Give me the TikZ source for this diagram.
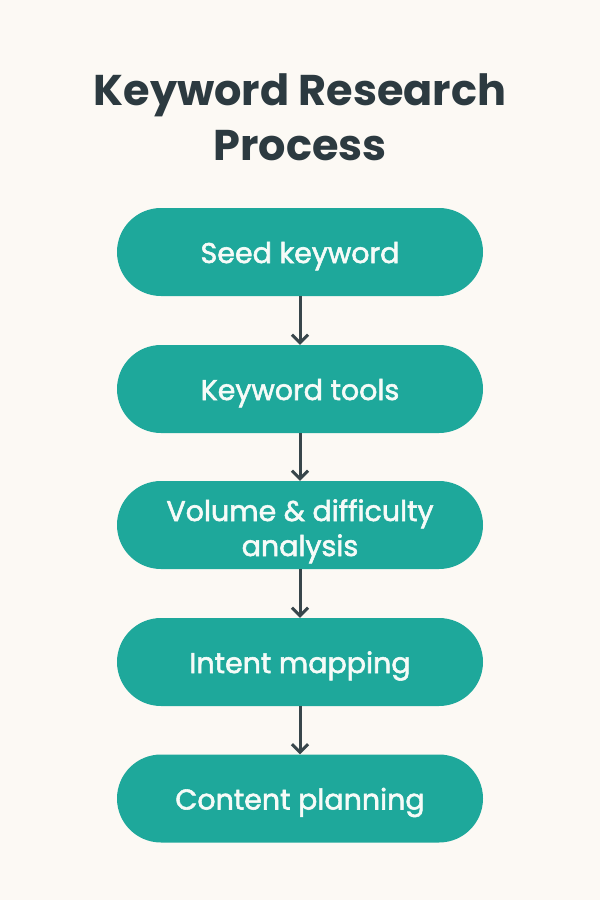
\documentclass[tikz,border=0pt]{standalone}
\usepackage{fontspec}
\setmainfont{Poppins}
\newfontfamily\boxfont{Poppins}[FakeBold=2]
\usetikzlibrary{arrows.meta}
\definecolor{bgc}{HTML}{FCF9F4}
\definecolor{teal}{HTML}{1EA89B}
\definecolor{ink}{HTML}{2C3A40}
\definecolor{arr}{HTML}{38464B}
\definecolor{txt}{HTML}{F6FBF8}
\begin{document}
\begin{tikzpicture}[x=1pt,y=-1pt,
  stepbox/.style={draw=none,fill=teal,rounded corners=44pt,minimum width=366pt,minimum height=88pt,
    text=txt,font=\boxfont\fontsize{28.5}{35}\selectfont,align=center,inner sep=0pt,
    text height=22pt,text depth=0pt},
  flow/.style={draw=arr,line width=3pt,-{Straight Barb[length=8pt,width=16pt,line width=3pt]}}]
\fill[bgc] (0,0) rectangle (600,900);
\useasboundingbox (0,0) rectangle (600,900);
\node[text=ink,font=\bfseries\fontsize{43}{55}\selectfont,align=center] (title) at (300,117) {Keyword Research\\Process};
\node[stepbox] (s1) at (300,252) {Seed keyword};
\node[stepbox] (s2) at (300,389) {Keyword tools};
\node[stepbox,text height=62pt] (s3) at (300,525) {Volume \& difficulty\\analysis};
\node[stepbox] (s4) at (300,662) {Intent mapping};
\node[stepbox] (s5) at (300,798.5) {Content planning};
\draw[flow] (s1) -- (s2);
\draw[flow] (s2) -- (s3);
\draw[flow] (s3) -- (s4);
\draw[flow] (s4) -- (s5);
\end{tikzpicture}
\end{document}
